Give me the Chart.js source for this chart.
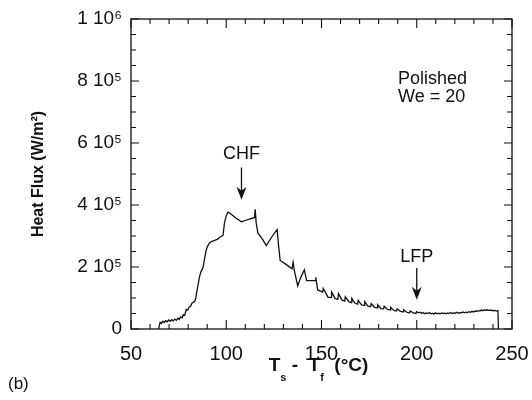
<!DOCTYPE html>
<html>
<head>
<meta charset="utf-8">
<script src="https://cdn.jsdelivr.net/npm/chart.js@4"></script>
<style>
  html, body { margin: 0; padding: 0; background: #fff; }
  #c { display: block; }
</style>
</head>
<body>
<canvas id="c" width="532" height="400"></canvas>
<script>
// Wall superheat Ts - Tf (°C)
const superheat = [
  64.5, 64.8, 65.3, 66.0, 66.7, 67.5, 68.2, 69.0, 69.8, 70.6,
  71.4, 72.2, 73.0, 73.8, 74.6, 75.3, 76.0, 76.8, 77.5, 78.2,
  79.0, 79.8, 80.5, 81.3, 82.0, 82.8, 83.5, 84.0, 84.4, 85.2,
  86.0, 86.8, 87.8, 88.6, 89.5, 90.4, 91.3, 92.5, 93.9, 95.5,
  96.8, 98.3, 99.1, 100.0, 100.9, 101.6, 102.6, 105.0, 108.0, 110.0,
  112.5, 114.8, 115.2, 115.7, 116.6, 119.0, 121.0, 123.8, 126.7, 127.3,
  128.3, 131.0, 134.5, 135.1, 135.7, 137.5, 139.0, 141.0, 142.2, 146.7,
  147.0, 148.0, 150.6, 150.9, 153.4, 155.0, 155.3, 157.2, 158.6, 158.9,
  160.8, 162.2, 162.5, 164.3, 165.6, 165.9, 167.6, 169.0, 169.3, 171.0,
  172.4, 172.7, 174.4, 175.8, 176.1, 177.8, 179.2, 179.5, 181.2, 182.6,
  182.9, 184.6, 186.0, 186.3, 188.0, 189.4, 189.7, 191.4, 192.8, 193.1,
  194.8, 196.2, 196.5, 198.2, 199.6, 199.9, 201.0, 201.8, 202.6, 203.3,
  204.2, 205.0, 205.8, 206.6, 207.4, 208.2, 209.0, 209.8, 210.6, 211.4,
  212.2, 213.0, 213.8, 214.6, 215.4, 216.2, 217.0, 217.8, 218.6, 219.4,
  220.2, 221.0, 221.8, 222.6, 223.4, 224.2, 225.0, 225.8, 226.6, 227.4,
  228.2, 229.0, 229.8, 230.6, 231.4, 232.2, 233.0, 233.8, 234.6, 235.4,
  236.2, 237.0, 238.0, 239.0, 240.0, 241.0, 242.0, 242.6, 242.9
];

// Heat flux (W/m²)
const heatFlux = [
  0, 9000, 22000, 18000, 25000, 21000, 27000, 23000, 29000, 25000,
  30000, 26000, 32000, 28000, 35000, 31000, 39000, 36000, 46000, 44000,
  63000, 61000, 70000, 73000, 83000, 86000, 90000, 99000, 116000, 142000,
  170000, 186000, 198000, 226000, 256000, 270000, 278000, 283000, 286000, 290000,
  297000, 302000, 343000, 365000, 377000, 375000, 370000, 358000, 346000, 350000,
  355000, 359000, 386000, 343000, 310000, 290000, 269000, 296000, 321000, 280000,
  221000, 210000, 194000, 215000, 190000, 139000, 165000, 191000, 156000, 156000,
  167000, 126000, 119000, 131000, 103000, 101000, 119000, 98000, 96000, 114000,
  93000, 90000, 104000, 88000, 85000, 99000, 83000, 80000, 92000, 78000,
  76000, 88000, 74000, 72000, 82000, 70000, 68000, 78000, 66000, 65000,
  73000, 63000, 62000, 70000, 60000, 58000, 65000, 57000, 55000, 62000,
  54000, 52000, 58000, 52000, 50000, 56000, 52000, 54000, 50000, 53000,
  49000, 52000, 50000, 53000, 49000, 51000, 48000, 52000, 49000, 51000,
  49000, 52000, 50000, 51000, 49000, 52000, 50000, 53000, 50000, 52000,
  51000, 54000, 51000, 53000, 52000, 55000, 52000, 54000, 53000, 56000,
  54000, 57000, 55000, 58000, 57000, 59000, 58000, 61000, 59000, 62000,
  60000, 62000, 60000, 61000, 59000, 60000, 58000, 59000, 0
];

const xTickValues = [50, 100, 150, 200, 250];
const yTickValues = [0, 200000, 400000, 600000, 800000, 1000000];
const yTickLabels = ['0', '2 10⁵', '4 10⁵', '6 10⁵', '8 10⁵', '1 10⁶'];

const FONT = "'Liberation Sans', Arial, Helvetica, sans-serif";
const INK = '#111';

// Boxed frame with inward tick marks on all four sides
const frameTicks = {
  id: 'frameTicks',
  afterDraw(chart) {
    const { ctx, chartArea: a, scales: { x, y } } = chart;
    ctx.save();
    ctx.strokeStyle = INK;
    ctx.lineWidth = 1.3;
    ctx.strokeRect(a.left, a.top, a.right - a.left, a.bottom - a.top);
    ctx.lineWidth = 1.1;
    ctx.beginPath();
    for (let v = 50; v <= 250; v += 10) {
      const px = x.getPixelForValue(v);
      const len = v % 50 === 0 ? 9 : 5;
      ctx.moveTo(px, a.bottom); ctx.lineTo(px, a.bottom - len);
      ctx.moveTo(px, a.top); ctx.lineTo(px, a.top + len);
    }
    for (let v = 0; v <= 1000000; v += 50000) {
      const py = y.getPixelForValue(v);
      const len = v % 200000 === 0 ? 8 : 5;
      ctx.moveTo(a.left, py); ctx.lineTo(a.left + len, py);
      ctx.moveTo(a.right, py); ctx.lineTo(a.right - len, py);
    }
    ctx.stroke();
    ctx.restore();
  }
};

// Text notes, arrows, x-axis title and panel letter
const notes = {
  id: 'notes',
  afterDraw(chart) {
    const { ctx, chartArea: a, scales: { x, y } } = chart;
    ctx.save();
    ctx.fillStyle = INK;
    ctx.strokeStyle = INK;
    ctx.lineWidth = 1.3;

    const arrow = (xv, topV, tipV) => {
      const px = x.getPixelForValue(xv);
      const t = y.getPixelForValue(topV);
      const tip = y.getPixelForValue(tipV);
      ctx.beginPath(); ctx.moveTo(px, t); ctx.lineTo(px, tip - 8); ctx.stroke();
      ctx.beginPath();
      ctx.moveTo(px, tip);
      ctx.lineTo(px - 5, tip - 13);
      ctx.lineTo(px, tip - 9);
      ctx.lineTo(px + 5, tip - 13);
      ctx.closePath();
      ctx.fill();
    };

    ctx.font = `18px ${FONT}`;
    ctx.textAlign = 'center';
    ctx.textBaseline = 'alphabetic';
    ctx.fillText('CHF', x.getPixelForValue(108), y.getPixelForValue(550000));
    arrow(108, 521000, 417000);
    ctx.fillText('LFP', x.getPixelForValue(200), y.getPixelForValue(217000));
    arrow(200, 197000, 94000);

    ctx.textAlign = 'left';
    ctx.fillText('Polished', x.getPixelForValue(190.2), y.getPixelForValue(790000));
    ctx.fillText('We = 20', x.getPixelForValue(190.2), y.getPixelForValue(731000));

    // x-axis title with subscripts
    const big = `bold 19px ${FONT}`, small = `bold 11px ${FONT}`;
    const parts = [['T', big, 0], ['s', small, 10], [' -  T', big, 0], ['f', small, 10], ['  (°C)', big, 0]];
    let w = 0;
    parts.forEach(([s, f]) => { ctx.font = f; w += ctx.measureText(s).width; });
    let cx = 318.5 - w / 2;
    const base = 371;
    parts.forEach(([s, f, dy]) => {
      ctx.font = f;
      ctx.fillText(s, cx, base + dy);
      cx += ctx.measureText(s).width;
    });

    ctx.font = `17px ${FONT}`;
    ctx.fillText('(b)', 8, 389);
    ctx.restore();
  }
};

new Chart(document.getElementById('c'), {
  type: 'line',
  data: {
    datasets: [{
      data: superheat.map((v, i) => ({ x: v, y: heatFlux[i] })),
      borderColor: INK,
      borderWidth: 1.3,
      pointRadius: 0,
      tension: 0,
      fill: false
    }]
  },
  options: {
    responsive: false,
    animation: false,
    devicePixelRatio: 1,
    layout: { padding: { left: 20, right: 20, top: 19, bottom: 0 } },
    plugins: { legend: { display: false }, tooltip: { enabled: false } },
    scales: {
      x: {
        type: 'linear',
        min: 50,
        max: 250,
        afterBuildTicks: s => { s.ticks = xTickValues.map(v => ({ value: v })); },
        afterFit: s => { s.height = 71; s.paddingLeft = 0; s.paddingRight = 0; },
        grid: { display: false, drawTicks: false },
        border: { display: false },
        ticks: { padding: 13, color: INK, font: { family: FONT, size: 20 }, maxRotation: 0, autoSkip: false }
      },
      y: {
        min: 0,
        max: 1000000,
        afterBuildTicks: s => { s.ticks = yTickValues.map(v => ({ value: v })); },
        afterFit: s => { s.width = 111; s.paddingTop = 0; s.paddingBottom = 0; },
        grid: { display: false, drawTicks: false },
        border: { display: false },
        ticks: {
          padding: 9,
          color: INK,
          font: { family: FONT, size: 19 },
          autoSkip: false,
          callback: v => yTickLabels[yTickValues.indexOf(v)]
        },
        title: {
          display: true,
          text: 'Heat Flux (W/m²)',
          color: INK,
          font: { family: FONT, size: 16, weight: 'bold' },
          padding: { top: 9, bottom: 0 }
        }
      }
    }
  },
  plugins: [frameTicks, notes]
});
</script>
</body>
</html>
